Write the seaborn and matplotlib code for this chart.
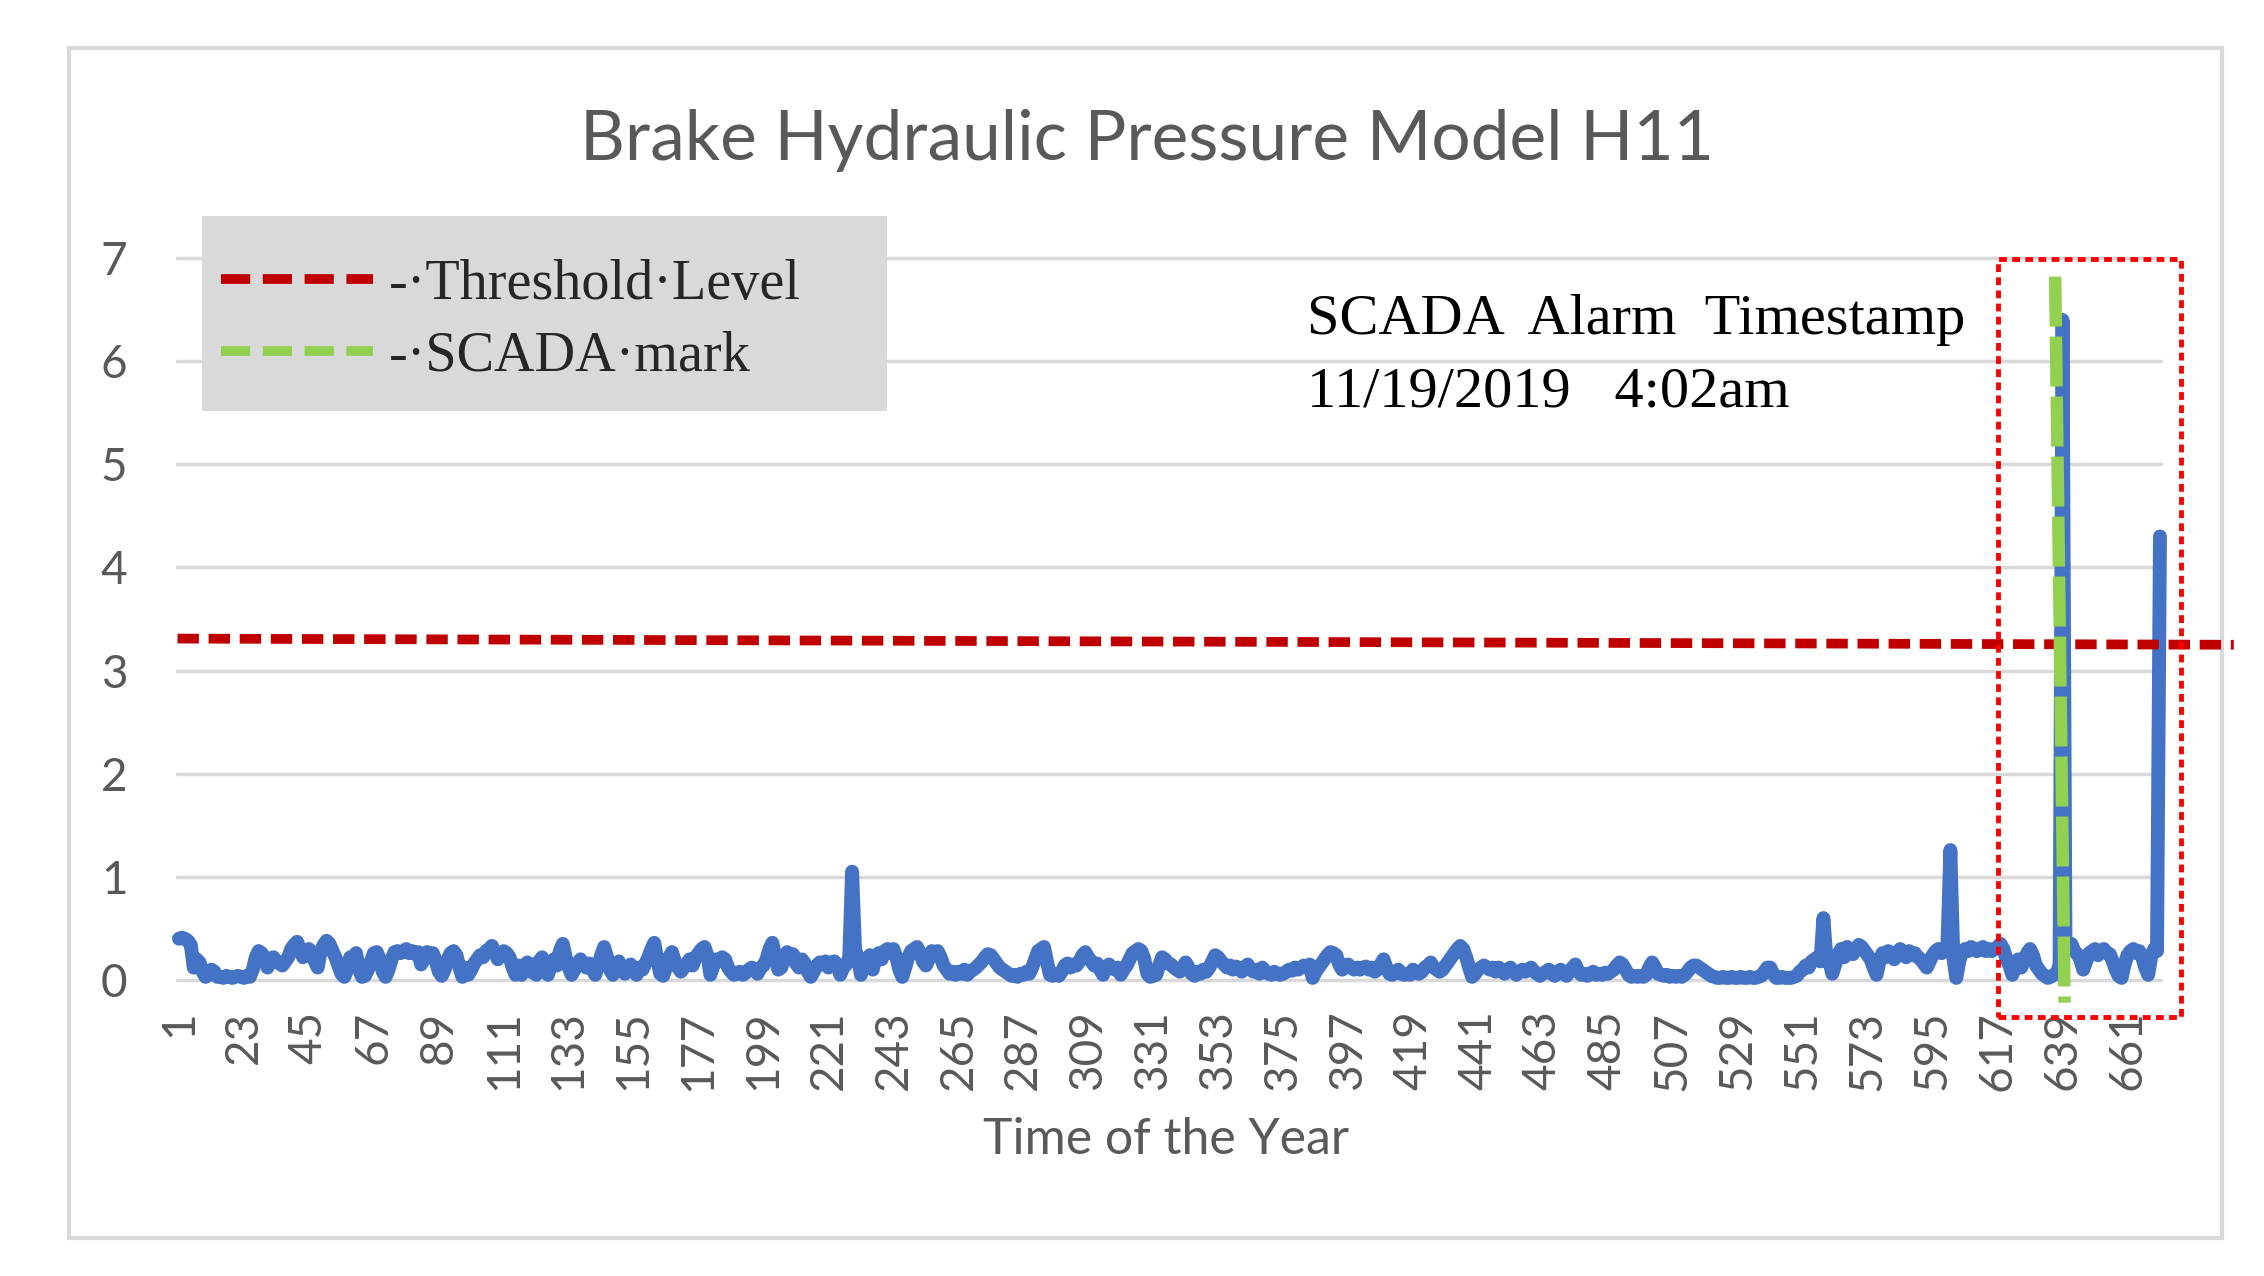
import matplotlib
matplotlib.use("Agg")
import matplotlib.pyplot as plt
import seaborn as sns
from matplotlib.lines import Line2D
from matplotlib.patches import Rectangle

# brake hydraulic pressure, one reading per time step
pressure = [
    0.40, 0.41, 0.40, 0.38, 0.34, 0.12, 0.20, 0.17, 0.08, 0.03, 0.05, 0.10, 0.08, 0.03, 0.03, 0.02, 0.04, 0.03, 0.02, 0.03, 0.04, 0.03,
    0.02, 0.04, 0.03, 0.10, 0.22, 0.28, 0.26, 0.22, 0.12, 0.20, 0.22, 0.18, 0.16, 0.14, 0.18, 0.22, 0.30, 0.34, 0.37, 0.30, 0.22, 0.26,
    0.30, 0.24, 0.18, 0.12, 0.28, 0.34, 0.38, 0.35, 0.28, 0.22, 0.14, 0.06, 0.03, 0.10, 0.22, 0.14, 0.26, 0.10, 0.03, 0.04, 0.10, 0.18,
    0.26, 0.27, 0.20, 0.08, 0.03, 0.10, 0.20, 0.27, 0.28, 0.26, 0.28, 0.30, 0.26, 0.28, 0.25, 0.27, 0.15, 0.20, 0.27, 0.24, 0.26, 0.18,
    0.08, 0.04, 0.10, 0.20, 0.26, 0.28, 0.24, 0.12, 0.03, 0.12, 0.05, 0.10, 0.16, 0.20, 0.24, 0.22, 0.28, 0.30, 0.33, 0.26, 0.20, 0.25,
    0.28, 0.26, 0.22, 0.12, 0.05, 0.14, 0.05, 0.10, 0.17, 0.08, 0.15, 0.05, 0.18, 0.22, 0.12, 0.05, 0.15, 0.20, 0.14, 0.28, 0.35, 0.22,
    0.12, 0.05, 0.10, 0.16, 0.20, 0.15, 0.12, 0.16, 0.10, 0.05, 0.14, 0.24, 0.32, 0.22, 0.10, 0.05, 0.12, 0.18, 0.10, 0.06, 0.10, 0.15,
    0.08, 0.05, 0.12, 0.10, 0.16, 0.22, 0.30, 0.36, 0.20, 0.06, 0.04, 0.12, 0.22, 0.27, 0.18, 0.12, 0.08, 0.12, 0.16, 0.20, 0.14, 0.22,
    0.26, 0.30, 0.32, 0.24, 0.05, 0.14, 0.20, 0.18, 0.22, 0.20, 0.12, 0.08, 0.05, 0.06, 0.08, 0.05, 0.07, 0.10, 0.12, 0.10, 0.06, 0.12,
    0.14, 0.20, 0.30, 0.36, 0.22, 0.10, 0.12, 0.20, 0.27, 0.22, 0.25, 0.16, 0.12, 0.20, 0.16, 0.08, 0.03, 0.08, 0.14, 0.17, 0.15, 0.18,
    0.12, 0.17, 0.18, 0.15, 0.05, 0.12, 0.15, 0.20, 1.05, 0.30, 0.20, 0.05, 0.14, 0.20, 0.24, 0.10, 0.22, 0.26, 0.20, 0.28, 0.30, 0.26,
    0.30, 0.22, 0.10, 0.03, 0.12, 0.22, 0.28, 0.30, 0.32, 0.26, 0.18, 0.14, 0.20, 0.28, 0.26, 0.28, 0.22, 0.14, 0.10, 0.06, 0.08, 0.05,
    0.08, 0.06, 0.10, 0.05, 0.08, 0.10, 0.12, 0.15, 0.18, 0.22, 0.25, 0.24, 0.20, 0.16, 0.12, 0.10, 0.08, 0.06, 0.04, 0.05, 0.03, 0.06,
    0.05, 0.08, 0.06, 0.12, 0.20, 0.28, 0.30, 0.32, 0.18, 0.05, 0.04, 0.06, 0.04, 0.08, 0.14, 0.16, 0.12, 0.15, 0.14, 0.18, 0.24, 0.27,
    0.22, 0.18, 0.14, 0.16, 0.10, 0.05, 0.12, 0.15, 0.12, 0.10, 0.12, 0.05, 0.10, 0.14, 0.20, 0.26, 0.28, 0.30, 0.28, 0.20, 0.06, 0.03,
    0.04, 0.05, 0.14, 0.22, 0.20, 0.16, 0.15, 0.12, 0.10, 0.08, 0.12, 0.17, 0.12, 0.06, 0.04, 0.08, 0.06, 0.10, 0.08, 0.12, 0.18, 0.24,
    0.22, 0.18, 0.15, 0.12, 0.14, 0.10, 0.13, 0.12, 0.08, 0.12, 0.15, 0.10, 0.08, 0.10, 0.06, 0.12, 0.08, 0.06, 0.05, 0.08, 0.06, 0.05,
    0.06, 0.08, 0.10, 0.09, 0.12, 0.10, 0.12, 0.14, 0.12, 0.15, 0.02, 0.08, 0.12, 0.16, 0.20, 0.24, 0.27, 0.26, 0.24, 0.15, 0.10, 0.12,
    0.15, 0.12, 0.10, 0.12, 0.10, 0.12, 0.13, 0.10, 0.12, 0.08, 0.10, 0.15, 0.20, 0.12, 0.06, 0.05, 0.08, 0.10, 0.06, 0.05, 0.06, 0.05,
    0.10, 0.07, 0.06, 0.08, 0.12, 0.14, 0.17, 0.12, 0.10, 0.08, 0.10, 0.14, 0.18, 0.22, 0.26, 0.30, 0.33, 0.30, 0.22, 0.12, 0.03, 0.06,
    0.10, 0.12, 0.14, 0.12, 0.10, 0.12, 0.08, 0.12, 0.10, 0.06, 0.10, 0.12, 0.08, 0.05, 0.08, 0.10, 0.08, 0.10, 0.12, 0.08, 0.06, 0.04,
    0.06, 0.08, 0.10, 0.06, 0.04, 0.08, 0.10, 0.06, 0.04, 0.08, 0.12, 0.15, 0.08, 0.05, 0.06, 0.04, 0.06, 0.08, 0.05, 0.06, 0.05, 0.07,
    0.06, 0.08, 0.10, 0.14, 0.17, 0.15, 0.10, 0.05, 0.03, 0.04, 0.03, 0.04, 0.03, 0.05, 0.12, 0.17, 0.12, 0.06, 0.05, 0.04, 0.05, 0.03,
    0.04, 0.03, 0.04, 0.03, 0.05, 0.08, 0.12, 0.14, 0.14, 0.12, 0.10, 0.08, 0.06, 0.04, 0.03, 0.02, 0.02, 0.03, 0.02, 0.02, 0.03, 0.02,
    0.02, 0.03, 0.02, 0.02, 0.03, 0.02, 0.02, 0.03, 0.04, 0.08, 0.12, 0.12, 0.06, 0.02, 0.02, 0.03, 0.02, 0.02, 0.02, 0.03, 0.04, 0.08,
    0.10, 0.14, 0.12, 0.18, 0.20, 0.22, 0.18, 0.60, 0.22, 0.18, 0.06, 0.15, 0.25, 0.30, 0.22, 0.32, 0.28, 0.25, 0.30, 0.34, 0.32, 0.28,
    0.24, 0.20, 0.12, 0.05, 0.18, 0.26, 0.22, 0.28, 0.24, 0.20, 0.26, 0.30, 0.25, 0.22, 0.28, 0.24, 0.26, 0.22, 0.20, 0.16, 0.12, 0.18,
    0.24, 0.28, 0.30, 0.26, 0.30, 0.32, 1.26, 0.22, 0.02, 0.18, 0.28, 0.30, 0.28, 0.32, 0.30, 0.28, 0.30, 0.32, 0.28, 0.30, 0.28, 0.30,
    0.32, 0.35, 0.30, 0.20, 0.14, 0.05, 0.14, 0.20, 0.12, 0.18, 0.26, 0.30, 0.24, 0.14, 0.10, 0.06, 0.04, 0.02, 0.03, 0.05, 0.06, 0.15,
    6.40, 0.32, 0.30, 0.35, 0.28, 0.25, 0.20, 0.10, 0.18, 0.26, 0.28, 0.30, 0.24, 0.28, 0.30, 0.26, 0.25, 0.18, 0.10, 0.04, 0.02, 0.15,
    0.24, 0.28, 0.30, 0.26, 0.28, 0.22, 0.12, 0.05, 0.22, 0.30, 0.28, 4.30,
]
time_step = list(range(1, len(pressure) + 1))
tick_steps = list(range(1, len(pressure) + 1, 22))
y_ticks = [0, 1, 2, 3, 4, 5, 6, 7]

# threshold level line (drawn a little past the plot area, as in the original)
threshold_x = [0.5, 697]
threshold_y = [3.31, 3.25]
# SCADA alarm mark
scada_x = [636.5, 639.7]
scada_y = [6.82, -0.22]
# alarm window box: x0, x1, y0, y1
alarm_x = [617, 679]
alarm_y = [-0.36, 6.99]

sns.set_style("white")
plt.rcParams['font.family'] = ['Lato', 'DejaVu Sans']

grey = '#595959'
fig = plt.figure(figsize=(22.64, 12.76), dpi=100)
ax = fig.add_axes([0.0784, 0.232, 0.8763, 0.5658])

sns.lineplot(x=time_step, y=pressure, ax=ax, color='#4472C4', zorder=3)
data_line = ax.lines[0]
data_line.set_linewidth(10)
data_line.set_solid_joinstyle('round')
data_line.set_solid_capstyle('round')
data_line.set_clip_on(False)

ax.plot(threshold_x, threshold_y, color='#C00000', lw=7, linestyle=(0, (2.2, 1.0)),
        clip_on=False, zorder=4)
ax.plot(scada_x, scada_y, color='#92D050', lw=9, linestyle=(0, (4.0, 0.8)),
        clip_on=False, zorder=5)
ax.add_patch(Rectangle((alarm_x[0], alarm_y[0]), alarm_x[1] - alarm_x[0], alarm_y[1] - alarm_y[0],
                       fill=False, edgecolor='#FF0000', lw=3.5, linestyle=(0, (1.6, 1.1)),
                       clip_on=False, zorder=6))

ax.set_xlim(0.5, len(pressure) + 0.5)
ax.set_ylim(0, 7)
ax.set_xticks(tick_steps)
ax.set_xticklabels([str(t) for t in tick_steps], rotation=90)
ax.set_yticks(y_ticks)
ax.yaxis.grid(True, color='#D9D9D9', lw=2.5)
ax.xaxis.grid(False)
for g in ax.get_ygridlines():
    g.set_clip_on(False)
ax.tick_params(axis='both', length=0, labelsize=33, colors=grey)
ax.tick_params(axis='y', pad=36)
ax.tick_params(axis='x', pad=22)
sns.despine(ax=ax, left=True, bottom=True)
ax.set_xlabel('')
ax.set_ylabel('')

ax.text(383, 6.26, 'SCADA  Alarm  Timestamp', family='Liberation Serif', fontsize=42,
        va='baseline', ha='left', color='black')
ax.text(383, 5.56, '11/19/2019   4:02am', family='Liberation Serif', fontsize=42,
        va='baseline', ha='left', color='black')

fig.text(0.5067, 0.890, 'Brake Hydraulic Pressure Model H11', fontsize=50, color=grey,
         ha='center', va='center')
fig.text(0.515, 0.1066, 'Time of the Year', fontsize=36, color=grey, ha='center', va='center')

# legend panel
fig.add_artist(Rectangle((0.0892, 0.678), 0.3026, 0.1527, transform=fig.transFigure,
                         facecolor='#D9D9D9', edgecolor='none', zorder=1))
handles = [
    Line2D([], [], color='#C00000', lw=7, linestyle=(0, (3.0, 1.3))),
    Line2D([], [], color='#92D050', lw=7, linestyle=(0, (3.0, 1.3))),
]
fig.legend(handles, ['-·Threshold·Level', '-·SCADA·mark'], loc='upper left',
           bbox_to_anchor=(0.0976, 0.797), bbox_transform=fig.transFigure,
           frameon=False, borderpad=0, borderaxespad=0, handlelength=2.7,
           handletextpad=0.28, labelspacing=0.35,
           prop={'family': 'Liberation Serif', 'size': 40.5})

fig.add_artist(Rectangle((0.0305, 0.0298), 0.951, 0.9326, transform=fig.transFigure,
                         fill=False, edgecolor='#D9D9D9', lw=3, zorder=0))

plt.savefig('out.png', dpi=100)
plt.close()
